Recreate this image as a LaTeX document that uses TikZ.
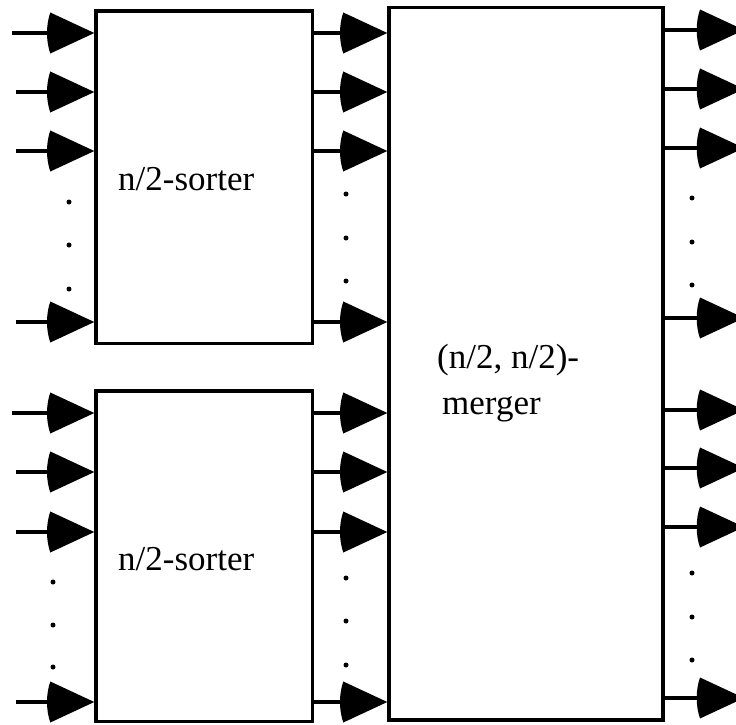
\documentclass[tikz,border=0pt]{standalone}
\usepackage{fontspec}
\setmainfont{Liberation Serif}
\usetikzlibrary{arrows.meta}
\pgfdeclarearrow{
  name = Fan,
  setup code = {
    \pgfarrowssettipend{0pt}
    \pgfarrowssetbackend{-1.08\pgfarrowlength}
    \pgfarrowssetlineend{-0.8\pgfarrowlength}
    \pgfarrowssavethe\pgfarrowlength
    \pgfarrowssavethe\pgfarrowwidth
  },
  drawing code = {
    \pgfpathmoveto{\pgfqpoint{0pt}{0pt}}
    \pgfpathlineto{\pgfpoint{-\pgfarrowlength}{.5\pgfarrowwidth}}
    \pgfpathcurveto{\pgfpoint{-1.1\pgfarrowlength}{.2\pgfarrowwidth}}{\pgfpoint{-1.1\pgfarrowlength}{-.2\pgfarrowwidth}}{\pgfpoint{-\pgfarrowlength}{-.5\pgfarrowwidth}}
    \pgfpathclose
    \pgfusepathqfill
  },
  parameters = {\the\pgfarrowlength,\the\pgfarrowwidth},
  defaults = {length=44pt, width=41pt}
}
\tikzset{
  blk/.style={draw, line width=3.4pt, rectangle, inner sep=0pt},
  conn/.style={line width=3.2pt, -{Fan}},
  lbl/.style={inner sep=0pt, anchor=base west, font=\fontsize{35pt}{42pt}\selectfont},
  vdot/.style={fill, circle, inner sep=0pt, minimum size=5pt}
}
\begin{document}
\begin{tikzpicture}[x=1pt, y=-1pt]
\useasboundingbox (0,0) rectangle (736,725);
% boxes
\node[blk, minimum width=216.5pt, minimum height=332.5pt] (s1) at (204.25,177.25) {};
\node[blk, minimum width=216.5pt, minimum height=330.5pt] (s2) at (204.25,556.25) {};
\node[blk, minimum width=274pt, minimum height=712.5pt] (m) at (526,363.75) {};
% labels
\node[lbl] (t1) at (118,190) {n/2-sorter};
\node[lbl] (t2) at (118,570) {n/2-sorter};
\node[lbl] (t3) at (437,368) {(n/2, n/2)-};
\node[lbl] (t4) at (442,414) {merger};
% inputs of sorter 1
\foreach \y/\x [count=\i] in {33/12, 92/16, 151/16, 322/16} {
  \coordinate (a\i) at (\x,\y);
  \draw[conn] (a\i) -- (a\i -| s1.west);
}
% inputs of sorter 2
\foreach \y/\x [count=\i] in {413/12, 472/16, 532/16, 702/16} {
  \coordinate (b\i) at (\x,\y);
  \draw[conn] (b\i) -- (b\i -| s2.west);
}
% sorter 1 to merger
\foreach \y [count=\i] in {33, 92, 151, 322} {
  \coordinate (c\i) at (0,\y);
  \draw[conn] (c\i -| s1.east) -- (c\i -| m.west);
}
% sorter 2 to merger
\foreach \y [count=\i] in {413, 472, 532, 702} {
  \coordinate (d\i) at (0,\y);
  \draw[conn] (d\i -| s2.east) -- (d\i -| m.west);
}
% merger outputs
\foreach \y [count=\i] in {30, 89, 148, 318, 410, 468, 527, 698} {
  \coordinate (e\i) at (744,\y);
  \draw[conn] (e\i -| m.east) -- (e\i);
}
% dots
\foreach \x/\y [count=\i] in {69/202, 69/245, 69/289,
  53/582, 53/625, 53/667,
  346/194, 346/238, 346/281,
  346/578, 346/621, 346/665,
  692/198, 692/242, 692/285,
  692/573, 692/617, 692/660} {
  \node[vdot] (p\i) at (\x,\y) {};
}
\end{tikzpicture}
\end{document}
